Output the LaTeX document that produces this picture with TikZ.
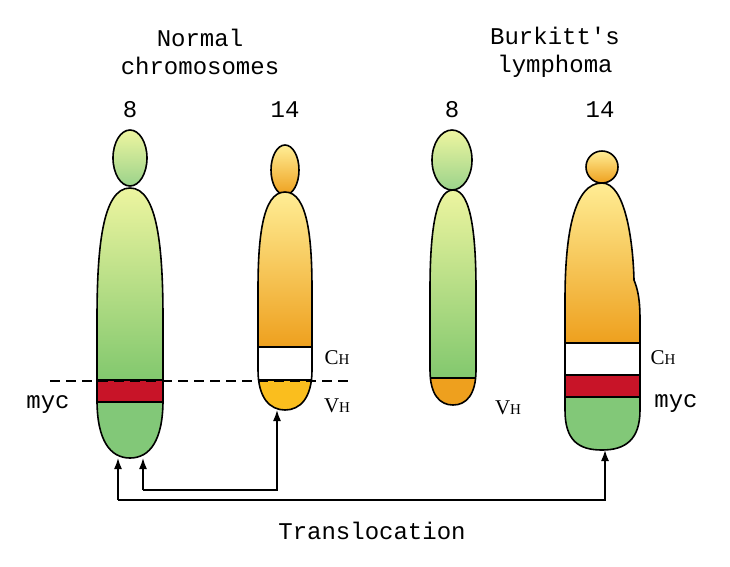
\documentclass[tikz,border=0pt]{standalone}
\usepackage{fontspec}
\usetikzlibrary{shapes.geometric,arrows.meta}
\setmonofont{Liberation Mono}
\setmainfont{Liberation Serif}
\begin{document}
\begin{tikzpicture}[x=1pt,y=-1pt,
 outl/.style={draw=black,line width=1.6pt},
 lbl/.style={font=\ttfamily\fontsize{24}{28}\selectfont,align=center},
 sub/.style={font=\fontsize{21}{24}\selectfont},
 arr/.style={-{Latex[length=11pt,width=8pt]},line width=1.5pt}]
\useasboundingbox (0,0) rectangle (730,566);
\definecolor{gtop}{RGB}{238,245,160}
\definecolor{gbot}{RGB}{130,200,110}
\definecolor{otop}{RGB}{255,238,150}
\definecolor{obot}{RGB}{238,160,30}
\definecolor{myred}{RGB}{200,20,40}
\definecolor{mygreen}{RGB}{130,200,120}
\definecolor{myyel}{RGB}{250,190,30}
% ---- chromosome 1 (normal 8)
\node[outl,ellipse,minimum width=34pt,minimum height=56pt,inner sep=0,shade,top color=gtop,bottom color=gbot!80] (h1) at (130,158) {};
\def\cone{(130,188) .. controls (158,188) and (163,250) .. (163,320) -- (163,400) .. controls (163,440) and (150,458) .. (130,458) .. controls (110,458) and (97,440) .. (97,400) -- (97,320) .. controls (97,250) and (102,188) .. (130,188)}
\begin{scope}
\clip \cone;
\shade[top color=gtop,bottom color=gbot] (95,186) rectangle (165,380);
\fill[myred] (95,380) rectangle (165,402);
\fill[mygreen] (95,402) rectangle (165,460);
\end{scope}
\draw[outl] \cone -- cycle;
\draw[outl] (97,380)--(163,380) (97,402)--(163,402);
% ---- chromosome 2 (normal 14)
\node[outl,ellipse,minimum width=28pt,minimum height=50pt,inner sep=0,shade,top color=otop,bottom color=obot] (h2) at (285,170) {};
\def\ctwo{(285,192) .. controls (308,192) and (312,240) .. (312,290) -- (312,370) .. controls (312,398) and (300,410) .. (285,410) .. controls (270,410) and (258,398) .. (258,370) -- (258,290) .. controls (258,240) and (262,192) .. (285,192)}
\begin{scope}
\clip \ctwo;
\shade[top color=otop,bottom color=obot] (255,190) rectangle (315,347);
\fill[white] (255,347) rectangle (315,380);
\fill[myyel] (255,380) rectangle (315,412);
\end{scope}
\draw[outl] \ctwo -- cycle;
\draw[outl] (258,347)--(312,347) (258,380)--(312,380);
% ---- chromosome 3 (Burkitt 8)
\node[outl,ellipse,minimum width=40pt,minimum height=60pt,inner sep=0,shade,top color=gtop,bottom color=gbot!80] (h3) at (452,160) {};
\def\cthree{(453,190) .. controls (472,190) and (476,240) .. (476,290) -- (476,370) .. controls (476,395) and (466,405) .. (453,405) .. controls (440,405) and (430,395) .. (430,370) -- (430,290) .. controls (430,240) and (434,190) .. (453,190)}
\begin{scope}
\clip \cthree;
\shade[top color=gtop,bottom color=gbot] (428,188) rectangle (478,378);
\fill[obot] (428,378) rectangle (478,407);
\end{scope}
\draw[outl] \cthree -- cycle;
\draw[outl] (430,378)--(476,378);
% ---- chromosome 4 (Burkitt 14)
\node[outl,circle,minimum size=32pt,inner sep=0,shade,top color=otop,bottom color=obot] (h4) at (602,167) {};
\def\cfour{(565,300) .. controls (565,230) and (575,183) .. (602,183) .. controls (625,183) and (633,240) .. (634,280) .. controls (638,290) and (640,300) .. (640,320) -- (640,410) .. controls (640,440) and (625,450) .. (602,450) .. controls (578,450) and (565,440) .. (565,410) -- cycle}
\begin{scope}
\clip \cfour;
\shade[top color=otop,bottom color=obot] (560,180) rectangle (645,343);
\fill[white] (560,343) rectangle (645,375);
\fill[myred] (560,375) rectangle (645,397);
\fill[mygreen] (560,397) rectangle (645,455);
\end{scope}
\draw[outl] \cfour;
\draw[outl] (565,343)--(640,343) (565,375)--(640,375) (565,397)--(640,397);
% ---- dashed line
\coordinate (d1) at (50,381); \coordinate (d2) at (350,381);
\draw[line width=1.5pt,dash pattern=on 10pt off 6pt] (d1)--(d2);
% ---- labels
\node[lbl] (t1) at (200,52) {Normal\\chromosomes};
\node[lbl] (t2) at (555,52) {Burkitt's\\lymphoma};
\node[lbl] (n1) at (130,110) {8};
\node[lbl] (n2) at (285,110) {14};
\node[lbl] (n3) at (452,110) {8};
\node[lbl] (n4) at (600,110) {14};
\node[lbl] (m1) at (48,405) {myc};
\node[lbl] (m2) at (676,404) {myc};
\node[sub] (c1) at (337,358) {C{\fontsize{15}{16}\selectfont H}};
\node[sub] (v1) at (337,406) {V{\fontsize{15}{16}\selectfont H}};
\node[sub] (v2) at (508,408) {V{\fontsize{15}{16}\selectfont H}};
\node[sub] (c2) at (663,358) {C{\fontsize{15}{16}\selectfont H}};
\node[lbl] (tr) at (372,531) {Translocation};
% ---- arrows
\coordinate (a1) at (118,458); \coordinate (a2) at (605,450);
\coordinate (b1) at (143,458); \coordinate (b2) at (277,410);
\draw[arr] (118,500) -- (a1);
\draw[arr] (118,500) -- (605,500) -- (a2);
\draw[arr] (143,490) -- (b1);
\draw[arr] (143,490) -- (277,490) -- (b2);
\end{tikzpicture}
\end{document}
